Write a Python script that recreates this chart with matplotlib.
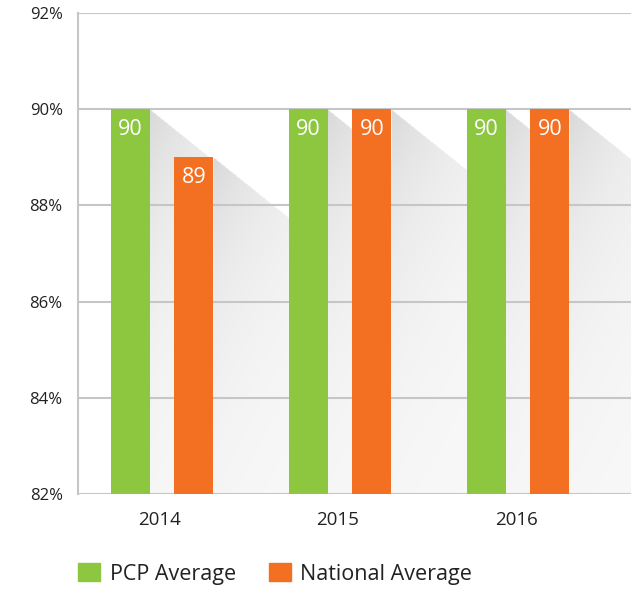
import numpy as np
import matplotlib
matplotlib.use("Agg")
import matplotlib.pyplot as plt
from matplotlib.patches import Patch

plt.rcParams['font.family'] = ['Open Sans', 'DejaVu Sans']

years = ["2014", "2015", "2016"]
pcp = [90, 90, 90]
national = [89, 90, 90]
series_names = ["PCP Average", "National Average"]
green = "#8DC63F"
orange = "#F36F21"
text_c = "#222222"

fig = plt.figure(figsize=(6.31, 5.92), dpi=100)
ax = fig.add_axes([78/631, 98/592, 553/631, 481/592])

ymin, ymax = 82, 92
xl, xr_lim = -0.461, 2.646

x = np.arange(len(years))
w = 0.219
off_p = 0.168
off_n = 0.19

# soft diagonal shadows (one combined field, max over bars)
px_x = 178.0
px_y = 48.0
nx, ny = 700, 600
gx = np.linspace(xl, xr_lim, nx)
gy = np.linspace(ymin, ymax, ny)
GX, GY = np.meshgrid(gx, gy)
alpha = np.zeros_like(GX)
corners = [(x[i] - off_p + w / 2, pcp[i]) for i in range(len(years))] + \
          [(x[i] + off_n + w / 2, national[i]) for i in range(len(years))]
for cx, top in corners:
    dx = (GX - cx) * px_x
    dy = (top - GY) * px_y
    inside = (dx >= 0) & (dy >= 0) & (dy >= dx * 0.8)
    a = 0.025 + 0.13 * np.exp(-dy / 170.0) * np.exp(-dx / 90.0)
    a = np.where(inside, a, 0.0)
    alpha = np.maximum(alpha, a)
img = np.zeros((ny, nx, 4))
img[..., 3] = alpha
ax.imshow(img, extent=[xl, xr_lim, ymin, ymax], origin='lower', aspect='auto',
          zorder=0.5, interpolation='bilinear')

ax.bar(x - off_p, [v - ymin for v in pcp], w, bottom=ymin, color=green, zorder=3)
ax.bar(x + off_n, [v - ymin for v in national], w, bottom=ymin, color=orange, zorder=3)

for i in range(len(years)):
    ax.text(x[i] - off_p, pcp[i] - 0.42, f"{pcp[i]}", color='white', ha='center',
            va='center', fontsize=15.5, zorder=4)
    ax.text(x[i] + off_n, national[i] - 0.42, f"{national[i]}", color='white', ha='center',
            va='center', fontsize=15.5, zorder=4)

ax.set_xlim(xl, xr_lim)
ax.set_ylim(ymin, ymax)

yt = [82, 84, 86, 88, 90, 92]
ax.set_yticks(yt)
ax.set_yticklabels([f"{v}%" for v in yt], fontsize=12, color=text_c)
ax.set_xticks(x)
ax.set_xticklabels(years, fontsize=13.5, color=text_c)
ax.tick_params(axis='both', length=0)
ax.tick_params(axis='y', pad=11)
ax.tick_params(axis='x', pad=12)
for yv in yt:
    ax.axhline(yv, color='#c6c6c6', lw=1.5, zorder=1)
for s in ['top', 'right', 'bottom']:
    ax.spines[s].set_visible(False)
ax.spines['left'].set_color('#c6c6c6')
ax.spines['left'].set_linewidth(1.5)
ax.set_facecolor('white')

handles = [Patch(color=green, label=series_names[0]),
           Patch(color=orange, label=series_names[1])]
fig.legend(handles=handles, loc='center left', bbox_to_anchor=(59/631, 1 - 574/592),
           ncol=2, frameon=False, fontsize=15.5, handlelength=1.0, handleheight=0.9,
           handletextpad=0.45, columnspacing=1.55, labelcolor=text_c)

fig.savefig("out.png", dpi=100, facecolor='white')
